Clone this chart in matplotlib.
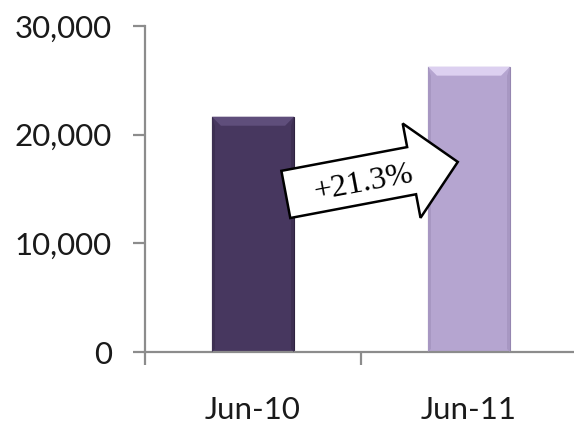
import numpy as np
import matplotlib
matplotlib.use('Agg')
import matplotlib.pyplot as plt
from matplotlib.patches import Polygon
from matplotlib import transforms

# data
categories = ['Jun-10', 'Jun-11']
values = [21650, 26260]
growth_label = '+21.3%'
yticks = [0, 10000, 20000, 30000]

bar_colors = ['#47375f', '#b5a5d0']
bevel_colors = ['#5f4e7b', '#dcd0f0']
side_colors = ['#3d2f52', '#a797c2']
edge_colors = ['#2e2240', '#9586b0']

fig = plt.figure(figsize=(5.74, 4.24), dpi=100)
ax = fig.add_axes([145/574., 72/424., 432/574., 326/424.])

x = np.arange(len(categories))
width = 0.38
ax.bar(x, values, width, color=bar_colors, edgecolor=edge_colors, linewidth=0.8, zorder=2)

# bevel on each bar (size in pixels -> data units)
px_x = 1.0/217
px_y = 30000/326.
bev = 9
side = 3
for i in range(len(values)):
    l = x[i] - width/2
    r = x[i] + width/2
    t = values[i]
    # thin darker sides
    ax.add_patch(Polygon([(l, t), (l + side*px_x, t - bev*px_y), (l + side*px_x, side*px_y), (l, 0)],
                         closed=True, facecolor=side_colors[i], edgecolor='none', zorder=3))
    ax.add_patch(Polygon([(r, t), (r - side*px_x, t - bev*px_y), (r - side*px_x, side*px_y), (r, 0)],
                         closed=True, facecolor=side_colors[i], edgecolor='none', zorder=3))
    pts = [(l, t), (r, t), (r - bev*px_x, t - bev*px_y), (l + bev*px_x, t - bev*px_y)]
    ax.add_patch(Polygon(pts, closed=True, facecolor=bevel_colors[i], edgecolor='none', zorder=3))

ax.set_xlim(-0.5, 1.5)
ax.set_ylim(0, 30000)
ax.set_yticks(yticks)
ax.set_yticklabels(['{:,}'.format(v) for v in yticks])
ax.set_xticks([-0.5, 0.5, 1.5])
ax.set_xticklabels([])
ax.set_xticks(x, minor=True)
ax.set_xticklabels(categories, minor=True)

for s in ['top', 'right']:
    ax.spines[s].set_visible(False)
for s in ['left', 'bottom']:
    ax.spines[s].set_color('#8c8c8c')
    ax.spines[s].set_linewidth(1.6)

ax.tick_params(axis='y', direction='out', length=9, width=1.6, color='#8c8c8c',
               labelsize=22.5, pad=15, labelcolor='#1a1a1a')
ax.tick_params(axis='x', which='major', direction='out', length=9, width=1.6, color='#8c8c8c')
ax.tick_params(axis='x', which='minor', length=0, labelsize=22.5, pad=32, labelcolor='#1a1a1a')
for lab in ax.get_yticklabels() + ax.get_xticklabels(minor=True):
    lab.set_fontfamily(['Lato', 'DejaVu Sans'])

# growth arrow, shape in pixels, anchored at its tail centre in data coords
angle = 10.7
length = 175
shaft = 24
head = 48
head_len = 47
arrow = [(0, shaft), (length - head_len, shaft), (length - head_len, head), (length, 0),
         (length - head_len, -head), (length - head_len, -shaft), (0, -shaft)]
tail = (0.152, 14500)
tr = transforms.Affine2D().rotate_deg(angle) + transforms.ScaledTranslation(tail[0], tail[1], ax.transData)
ax.add_patch(Polygon(arrow, closed=True, facecolor='white', edgecolor='black',
                     linewidth=1.8, transform=tr, zorder=4, clip_on=False))
a = np.deg2rad(angle)
ax.annotate(growth_label, xy=tail, xytext=(78*np.cos(a) + 3*np.sin(a), 78*np.sin(a) - 3*np.cos(a)),
            textcoords='offset pixels', ha='center', va='center', rotation=angle,
            fontsize=23, family=['Liberation Serif', 'DejaVu Serif'], zorder=5)

fig.savefig('out.png', dpi=100)
